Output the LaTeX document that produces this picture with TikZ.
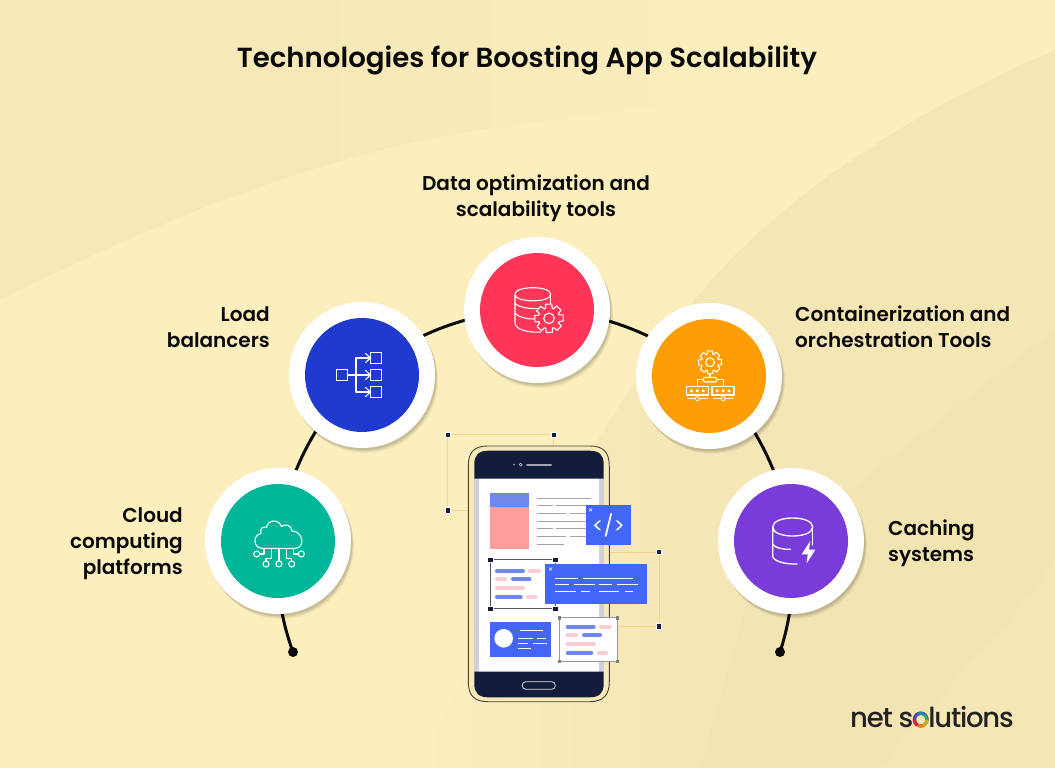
\documentclass[tikz,border=0pt]{standalone}
\usepackage{fontspec}
\setmainfont{Poppins}[BoldFont={Poppins SemiBold}]
\newfontfamily\logofont{Poppins Medium}[LetterSpace=-4.5]
\pgfdeclarelayer{bg}\pgfsetlayers{bg,main}
\definecolor{ink}{HTML}{0A0A0A}
\definecolor{navy}{HTML}{141C3C}
\definecolor{uiblue}{HTML}{4466F5}
\definecolor{softblue}{HTML}{6E88EE}
\definecolor{softpink}{HTML}{FBCDD2}
\definecolor{guide}{HTML}{EFD68C}
\definecolor{greyline}{HTML}{A4A4AE}
\definecolor{bgbase}{HTML}{FCEFBD}
\definecolor{bgdark}{HTML}{F5E7B5}
\definecolor{bgdarker}{HTML}{F3E5B2}
\definecolor{bgtop}{HTML}{F7E9B7}
\definecolor{cgreen}{HTML}{00B698}
\definecolor{cblue}{HTML}{203AD0}
\definecolor{cred}{HTML}{FF3658}
\definecolor{corange}{HTML}{FF9E04}
\definecolor{cpurple}{HTML}{7A3CD8}
\definecolor{strip}{HTML}{CFD0DA}
\definecolor{salmon}{HTML}{FF9C9C}
\definecolor{cardline}{HTML}{555566}
\definecolor{logoink}{HTML}{222224}
\definecolor{ringa}{HTML}{D8204F}
\definecolor{ringb}{HTML}{5A3FB0}
\definecolor{ringc}{HTML}{2A7FC0}
\definecolor{ringd}{HTML}{2E9F7B}
\definecolor{ringe}{HTML}{C9B022}
\definecolor{ringf}{HTML}{E87A20}
\tikzset{
  x=1pt,y=-1pt,
  label/.style={font=\fontsize{20}{26}\selectfont\bfseries,text=ink,inner sep=0pt},
  badge/.style={circle,fill=white,minimum size=146pt,inner sep=0pt},
  disc/.style={circle,minimum size=114pt,inner sep=0pt},
  arcline/.style={line width=3pt,draw=ink},
  enddot/.style={circle,fill=ink,minimum size=10pt,inner sep=0pt},
  icon/.style={draw=white,line width=1.1pt,line join=round,line cap=round},
  handle/.style={fill=navy,draw=white,line width=.5pt},
  guideline/.style={draw=guide,line width=1pt},
  thinrule/.style={draw=greyline,line width=.9pt},
  wline/.style={draw=white,line width=.8pt},
  pillb/.style={draw=softblue,line width=4pt,line cap=round},
  pillp/.style={draw=softpink,line width=4pt,line cap=round},
}
\newcommand{\shadowdisc}[2]{%
  \foreach \s/\o in {5/.04,4/.05,3/.06,2/.07}{\fill[black,opacity=\o] (#1+\s*.6,#2+\s) circle[radius=73];}}
\newcommand{\gearshape}[5]{%
  \draw[icon,fill=#5] ({#1+#3*cos(-14)},{#2+#3*sin(-14)})
   \foreach \i in {0,...,7}{ -- ({#1+#3*cos(\i*45-14)},{#2+#3*sin(\i*45-14)}) -- ({#1+#3*cos(\i*45+11)},{#2+#3*sin(\i*45+11)}) -- ({#1+#4*cos(\i*45+18)},{#2+#4*sin(\i*45+18)}) -- ({#1+#4*cos(\i*45+26)},{#2+#4*sin(\i*45+26)})} -- cycle;
  \draw[icon] (#1,#2) circle[radius=#4*.5];}
\newcommand{\hsq}[2]{\fill[handle] (#1-2.6,#2-2.6) rectangle (#1+2.6,#2+2.6);}
\newcommand{\gsq}[2]{\fill[gray] (#1-1.8,#2-1.8) rectangle (#1+1.8,#2+1.8);}
\begin{document}
\begin{tikzpicture}
\useasboundingbox (0,0) rectangle (1055,768);
\begin{pgfonlayer}{bg}
  \fill[bgbase] (0,0) rectangle (1055,768);
  % top-left darker sweep, fading to the right
  \begin{scope}
    \clip (0,300) .. controls (170,215) and (330,150) .. (500,127) .. controls (600,112) and (700,100) .. (800,95) -- (800,0) -- (0,0) -- cycle;
    \fill[bgtop] (0,0) rectangle (300,310);
    \shade[left color=bgtop,right color=bgbase] (300,0) rectangle (760,310);
  \end{scope}
  % lower-right darker sweep, fading to the left
  \begin{scope}
    \clip (1055,50) .. controls (950,95) and (800,175) .. (700,293) .. controls (600,420) and (500,600) .. (420,768) -- (1055,768) -- cycle;
    \shade[left color=bgbase,right color=bgdark] (420,0) rectangle (690,768);
    \fill[bgdark] (690,0) rectangle (1055,768);
  \end{scope}
  \begin{scope}
    \clip (760,560) -- (1055,330) -- (1055,560) .. controls (1000,640) and (930,700) .. (880,768) -- (700,768) -- cycle;
    \fill[bgdarker] (700,330) rectangle (1055,768);
  \end{scope}
\end{pgfonlayer}

% badges
\shadowdisc{278}{541}\node[badge] (cloud) at (278,541) {};
\shadowdisc{362}{375}\node[badge] (load) at (362,375) {};
\shadowdisc{537}{310}\node[badge] (data) at (537,310) {};
\shadowdisc{709}{376}\node[badge] (orch) at (709,376) {};
\shadowdisc{791}{541}\node[badge] (cache) at (791,541) {};
\node[disc,fill=cgreen] at (cloud) {};
\node[disc,fill=cblue] at (load) {};
\node[disc,fill=cred] at (data) {};
\node[disc,fill=corange] at (orch) {};
\node[disc,fill=cpurple] at (cache) {};

\node[enddot] (endl) at (293,652) {};
\node[enddot] (endr) at (780,652) {};
\begin{pgfonlayer}{bg}
  \draw[arcline] (endl.center) to[bend left=12.5,looseness=.86] (cloud.center);
  \draw[arcline] (cloud.center) to[bend left=20.9,looseness=.86] (load.center);
  \draw[arcline] (load.center) to[bend left=20.4,looseness=.86] (data.center);
  \draw[arcline] (data.center) to[bend left=20.4,looseness=.86] (orch.center);
  \draw[arcline] (orch.center) to[bend left=20.9,looseness=.86] (cache.center);
  \draw[arcline] (cache.center) to[bend left=12.5,looseness=.86] (endr.center);
\end{pgfonlayer}

% texts
\node[font=\fontsize{27.6}{32}\selectfont\bfseries,text=ink,inner sep=0pt] (title) at (527,60) {Technologies for Boosting App Scalability};
\node[label,align=center] (tdata) at (536,198) {Data optimization and\\scalability tools};
\node[label,align=right,anchor=east] (tload) at (270,327) {Load\\balancers};
\node[label,align=right,anchor=east] (tcloud) at (183,544) {Cloud\\computing\\platforms};
\node[label,align=left,anchor=west] (torch) at (795,327) {Containerization and\\orchestration Tools};
\node[label,align=left,anchor=west] (tcache) at (888,543) {Caching\\systems};

% load icon
\draw[icon] (336.3,369.7) rectangle (347.3,380.3);
\foreach \y in {352.7,369.7,386.7}{\draw[icon] (370.7,\y) rectangle (381.3,\y+10.6);}
\draw[icon] (347.3,375) -- (370.7,375);
\draw[icon] (370.7,358) -- (356,358) -- (356,392) -- (370.7,392);
\foreach \y in {358,375,392}{\draw[icon] (365.5,\y-4.5) -- (370.5,\y) -- (365.5,\y+4.5);}

% cloud icon
\draw[icon] (262,548.3) .. controls (253,548) and (252.5,535) .. (261,533.5)
  .. controls (259,528) and (264,526) .. (266.5,527.5)
  .. controls (268,519) and (279,519) .. (281.5,526.5)
  .. controls (286,523) and (292,526) .. (292,531)
  .. controls (303,531) and (306,548) .. (295,548.3) -- cycle;
\draw[icon] (279,548.3) -- (279,560.5);
\draw[icon] (279,563.8) circle[radius=3];
\draw[icon] (271.7,548.3) -- (271.7,558.3) -- (266,558.3) -- (266,561);
\draw[icon] (266,564) circle[radius=3];
\draw[icon] (286.7,548.3) -- (286.7,558.3) -- (291.7,558.3) -- (291.7,561);
\draw[icon] (291.7,564) circle[radius=3];
\draw[icon] (264,548.3) -- (264,554) -- (259.7,554);
\draw[icon] (256.7,554) circle[radius=3];
\draw[icon] (293.3,548.3) -- (293.3,554) -- (298.3,554);
\draw[icon] (301.3,554) circle[radius=3];

% data icon
\draw[icon] (515,294.3) .. controls (515,285.5) and (550.7,285.5) .. (550.7,294.3)
  .. controls (550.7,303) and (515,303) .. (515,294.3) -- (515,323)
  .. controls (515,330) and (530,333) .. (541,332);
\draw[icon] (515,303.5) .. controls (520,308) and (532,309) .. (538,308.5);
\draw[icon] (515,313.5) .. controls (520,318) and (528,319) .. (534,319);
\draw[icon] (550.7,294.3) -- (550.7,304);
\gearshape{549}{318.3}{14.5}{10.5}{cred}

% orchestration icon
\gearshape{710}{362.3}{11.7}{8.8}{corange}
\draw[icon] (710,373.5) -- (710,377.3);
\draw[icon,rounded corners=2pt] (703.3,377.3) rectangle (716.7,382);
\draw[icon] (703.3,379.7) -- (697.3,379.7) -- (697.3,386.7);
\draw[icon] (716.7,379.7) -- (723.3,379.7) -- (723.3,386.7);
\draw[icon] (686.7,386.7) rectangle (708.3,395);
\draw[icon] (712,386.7) rectangle (734,395);
\foreach \x in {691.5,697.3,703.2,717.2,723.1,729}{\draw[icon,line width=.8pt] (\x,390.8) circle[radius=1.2];}
\draw[icon] (697.3,395) -- (697.3,396.7);
\draw[icon] (723.1,395) -- (723.1,396.7);
\draw[icon,line width=.8pt] (697.3,398.7) circle[radius=2];
\draw[icon,line width=.8pt] (723.1,398.7) circle[radius=2];
\draw[icon,line width=.8pt] (687.5,398.7) -- (695.3,398.7) (699.3,398.7) -- (707.5,398.7);
\draw[icon,line width=.8pt] (713.5,398.7) -- (721.1,398.7) (725.1,398.7) -- (733,398.7);

% cache icon
\draw[icon,line width=1.3pt] (772.7,527) .. controls (772.7,515) and (812.7,515) .. (812.7,527)
  .. controls (812.7,539) and (772.7,539) .. (772.7,527) -- (772.7,556)
  .. controls (772.7,561) and (785,564.5) .. (797.3,564);
\draw[icon,line width=1.3pt] (812.7,527) -- (812.7,545);
\draw[icon,line width=1.3pt] (772.7,544.3) .. controls (775,548) and (783,549.5) .. (790.3,549.3);
\fill[white] (810.3,541) -- (801.7,554.3) -- (807.7,554.3) -- (806.7,563.3) -- (815.3,549.7) -- (809,549.7) -- cycle;

% selection guides
\draw[guideline] (553.7,446) -- (553.7,434.7) -- (447.7,434.7) -- (447.7,510.3) -- (468.3,510.3);
\draw[guideline] (609.3,552) -- (659,552) -- (659,626.3) -- (617.7,626.3);
\hsq{447.7}{434.7}\hsq{553.7}{434.7}\hsq{447.7}{510.3}\hsq{659}{552}\hsq{659}{626.3}

% phone
\draw[draw=black!70!bgdark,line width=.9pt,fill=bgdark!60!bgbase] (468.3,466) .. controls (468.3,452) and (474,446) .. (488,446) -- (590,446) .. controls (603,446) and (609.3,452) .. (609.3,466) -- (609.3,682) .. controls (609.3,695) and (603,701.7) .. (590,701.7) -- (488,701.7) .. controls (474,701.7) and (468.3,695) .. (468.3,682) -- cycle;
\fill[white] (474.3,478) rectangle (603.7,672);
\fill[strip] (474.3,478) rectangle (478.8,672);
\fill[strip] (599.2,478) rectangle (603.7,672);
\fill[navy] (474.3,478.7) -- (474.3,464) .. controls (474.3,455) and (479,450.7) .. (488,450.7) -- (590,450.7) .. controls (599,450.7) and (603.7,455) .. (603.7,464) -- (603.7,478.7) -- cycle;
\fill[navy] (474.3,671.7) -- (474.3,684) .. controls (474.3,693) and (479,697.3) .. (488,697.3) -- (590,697.3) .. controls (599,697.3) and (603.7,693) .. (603.7,684) -- (603.7,671.7) -- cycle;
\fill[white!70!navy] (514,464.7) circle[radius=.8];
\draw[white!70!navy,line width=.6pt] (520.7,464.7) circle[radius=1.5];
\draw[white!60!navy,line width=2pt,line cap=round] (527,464.7) -- (551,464.7);
\draw[white!85!navy,line width=.8pt,rounded corners=3.5pt] (522.3,681.7) rectangle (555.3,689.3);

% article block
\fill[softblue] (490,493.3) rectangle (529,507.3);
\fill[salmon] (490,507.3) rectangle (529,549);
\draw[thinrule] (537,498) -- (590.7,498);
\draw[thinrule] (537,505) -- (552.7,505) (556,505) -- (590,505);
\draw[thinrule] (537,513.3) -- (566,513.3) (570,513.3) -- (590,513.3);
\draw[thinrule] (537,521) -- (590,521);
\draw[thinrule] (537,528) -- (553,528) (556,528) -- (590,528);
\draw[thinrule] (537,536.3) -- (566,536.3) (570,536.3) -- (590,536.3);
\draw[thinrule] (537,544.3) -- (564,544.3);

% code window
\fill[uiblue] (585.7,505) rectangle (631,545);
\draw[white,line width=.6pt] (589.2,508.5) -- (592,511.3) (592,508.5) -- (589.2,511.3);
\node[font=\fontsize{21}{24}\selectfont,text=white,inner sep=0pt] (code) at (608.5,525.5) {</>};

% selected card
\draw[draw=cardline,line width=.9pt,fill=white] (490.3,559.7) rectangle (555.3,608.7);
\hsq{490.3}{559.7}\hsq{555.3}{559.7}\hsq{490.3}{608.7}\hsq{555.3}{608.7}
\draw[pillb] (497,571) -- (523,571);
\draw[pillp] (530,571) -- (539,571);
\draw[pillp] (497,579.3) -- (505.5,579.3);
\draw[pillb] (513,579.3) -- (529.5,579.3);
\draw[pillp] (497,588) -- (523,588);
\draw[pillb] (497,597.3) -- (520.7,597.3);
\draw[pillp] (528,597.3) -- (535.5,597.3);

% blue window
\fill[uiblue] (545.3,564.3) rectangle (646.7,604.3);
\draw[white,line width=.6pt] (549,567.5) -- (552,570.5) (552,567.5) -- (549,570.5);
\draw[wline] (555,578.3) -- (578,578.3) (583.3,578.3) -- (633.3,578.3);
\draw[wline] (555,584.3) -- (569,584.3) (574,584.3) -- (595,584.3) (598.7,584.3) -- (612.3,584.3) (617.3,584.3) -- (638,584.3);
\draw[wline] (555,591.3) -- (575.7,591.3) (581.3,591.3) -- (590,591.3) (598.7,591.3) -- (619,591.3) (625,591.3) -- (633.3,591.3);

% profile card
\fill[uiblue] (490,622.3) rectangle (551,656.7);
\fill[white] (503.7,638.3) circle[radius=9.3];
\draw[wline] (519.7,630.7) -- (543,630.7);
\draw[wline] (518.3,638.3) -- (532.7,638.3) (536.7,638.3) -- (546,638.3);
\draw[wline] (518,643.3) -- (528.3,643.3) (533.3,643.3) -- (546.7,643.3);
\draw[wline] (518,648.3) -- (531,648.3);

% second card
\draw[draw=gray!80,line width=.9pt,fill=white] (559.3,617.7) rectangle (617.3,661.3);
\gsq{559.3}{617.7}\gsq{617.3}{617.7}\gsq{559.3}{661.3}\gsq{617.3}{661.3}
\draw[pillb] (567.7,626.7) -- (593.7,626.7);
\draw[pillp] (601,626.7) -- (609.7,626.7);
\draw[pillp] (567.7,635) -- (576,635);
\draw[pillb] (584,635) -- (600,635);
\draw[pillp] (567.7,643.7) -- (593.7,643.7);
\draw[pillb] (567.7,653) -- (591.3,653);
\draw[pillp] (598.7,653) -- (606,653);

% logo
\node[font=\fontsize{27.5}{30}\selectfont\logofont,text=logoink,inner sep=0pt,anchor=base west] (logo) at (850,727.5) {net solutions};
\coordinate (ring) at (920.6,719.8);
\foreach \a/\c in {60/ringf,120/ringa,180/ringb,240/ringc,300/ringd,0/ringe}{
  \draw[\c,line width=3.2pt] (ring) ++(\a:6.4) arc[start angle=\a,delta angle=62,radius=6.4];}
\end{tikzpicture}
\end{document}
